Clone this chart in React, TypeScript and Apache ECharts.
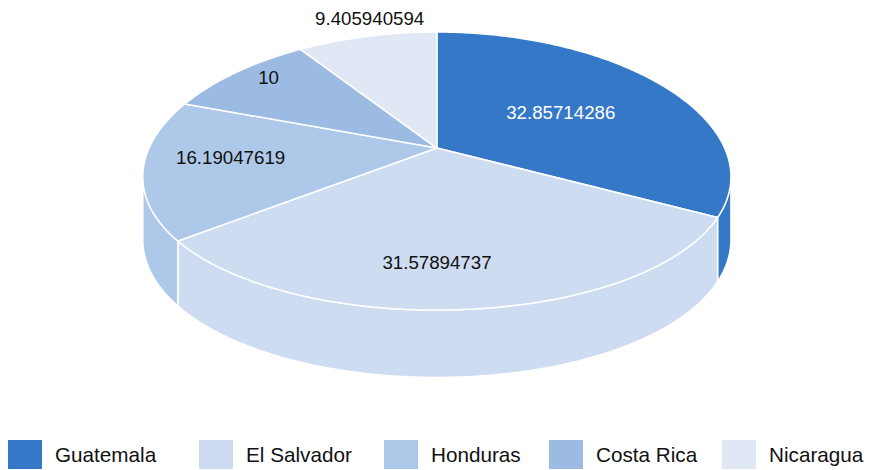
import React, { useEffect, useRef } from "react";
import * as echarts from "echarts";

// ---- data ----
const countries = ["Guatemala", "El Salvador", "Honduras", "Costa Rica", "Nicaragua"];
const shares = [32.85714286, 31.57894737, 16.19047619, 10, 9.405940594];

// ---- styling / layout ----
const colors = ["#3678c8", "#cddcf0", "#adc8e8", "#9bbbe2", "#dfe8f4"];
const labelColors = ["#ffffff", "#111111", "#111111", "#111111", "#111111"];
const labelRadius = [0.53, 0.74, 0.71, 0.87, 1.17];
const labelShiftDeg = [0, 4.9, 3.6, 3, 2.6];
const legendLeft = [8, 199, 384, 549, 722];

const FONT = "'Liberation Sans', Arial, Helvetica, sans-serif";
const CX = 0.501; // pie centre, fraction of width
const CY = 0.315; // pie centre, fraction of height
const RX = 0.33; // horizontal radius, fraction of width
const RY = 0.2877; // vertical radius, fraction of height
const K = 0.1655; // perspective strength
const DEPTH = 0.1309; // wall height, fraction of height

const total = shares.reduce((a, b) => a + b, 0);
const starts: number[] = [];
{
  let acc = 0;
  for (const v of shares) {
    starts.push(acc);
    acc += v;
  }
}

export default function App() {
  const ref = useRef<HTMLDivElement>(null);
  useEffect(() => {
    if (!ref.current) return;
    const chart = echarts.init(ref.current, undefined, { renderer: "svg" });

    const renderItem = (params: any, api: any) => {
      const i = params.dataIndex;
      const W = api.getWidth();
      const H = api.getHeight();
      const cx = W * CX, cy = H * CY, ax = W * RX, ay = H * RY, d0 = H * DEPTH;
      const v = api.value(0) as number;
      const TAU = Math.PI * 2;
      const a0 = (starts[i] / total) * TAU;
      const a1 = a0 + (v / total) * TAU;
      const proj = (t: number, r: number): number[] => {
        const s = Math.sin(t), c = Math.cos(t);
        const zn = 1 + K * r * c;
        return [cx + (ax * r * s) / Math.pow(zn, 1.25), cy - (ay * r * c) / zn];
      };
      const depth = (t: number) => d0 / Math.sqrt(1 + K * Math.cos(t));
      // silhouette extremes
      let tR = 0, tL = Math.PI, maxX = -Infinity, minX = Infinity;
      for (let j = 0; j <= 3600; j++) {
        const t = (j / 3600) * TAU;
        const x = proj(t, 1)[0];
        if (x > maxX) { maxX = x; tR = t; }
        if (x < minX) { minX = x; tL = t; }
      }
      const arcAngles = (s: number, e: number) => {
        const n = Math.max(2, Math.ceil((e - s) / (Math.PI / 240)));
        const out: number[] = [];
        for (let j = 0; j <= n; j++) out.push(s + ((e - s) * j) / n);
        return out;
      };
      const children: any[] = [];
      const ws = Math.max(a0, tR), we = Math.min(a1, tL);
      if (we > ws) {
        const angs = arcAngles(ws, we);
        const top = angs.map((t) => proj(t, 1));
        const bottom = angs.map((t, j) => [top[j][0], top[j][1] + depth(t)]).reverse();
        children.push({
          type: "polygon",
          z2: 0,
          shape: { points: top.concat(bottom) },
          style: { fill: colors[i], stroke: "#ffffff", lineWidth: 1.5, lineJoin: "round" },
        });
      }
      const topPts = [[cx, cy]].concat(arcAngles(a0, a1).map((t) => proj(t, 1)));
      children.push({
        type: "polygon",
        z2: 10,
        shape: { points: topPts },
        style: { fill: colors[i], stroke: "#ffffff", lineWidth: 1.5, lineJoin: "round" },
      });
      const lt = (a0 + a1) / 2 + (labelShiftDeg[i] * Math.PI) / 180;
      const lp = proj(lt, labelRadius[i]);
      children.push({
        type: "text",
        z2: 20,
        style: {
          text: String(v),
          x: lp[0],
          y: lp[1],
          fill: labelColors[i],
          fontSize: 18.7,
          fontFamily: FONT,
          align: "center",
          verticalAlign: "middle",
          textAlign: "center",
          textVerticalAlign: "middle",
        },
      });
      return { type: "group", children };
    };

    const pieData = countries.map((n, i) => ({
      name: n,
      value: shares[i],
      itemStyle: { color: colors[i] },
    }));

    chart.setOption({
      animation: false,
      backgroundColor: "#ffffff",
      legend: countries.map((n, i) => ({
        data: [n],
        left: legendLeft[i],
        top: 440,
        padding: 0,
        itemGap: 0,
        itemWidth: 34,
        itemHeight: 29,
        icon: "rect",
        selectedMode: false,
        textStyle: { fontSize: 20.7, color: "#111111", fontFamily: FONT, padding: [0, 0, 0, 8] },
      })),
      series: [
        {
          type: "custom",
          name: "Share",
          coordinateSystem: "none",
          renderItem,
          silent: true,
          data: pieData,
        },
        {
          type: "pie",
          name: "legend",
          radius: [0, 0],
          center: ["50%", "30%"],
          silent: true,
          label: { show: false },
          labelLine: { show: false },
          data: pieData,
        },
      ],
    });
    return () => chart.dispose();
  }, []);
  return (
    <div
      ref={ref}
      style={{ position: "absolute", left: 0, top: 0, width: 872, height: 470 }}
    />
  );
}
